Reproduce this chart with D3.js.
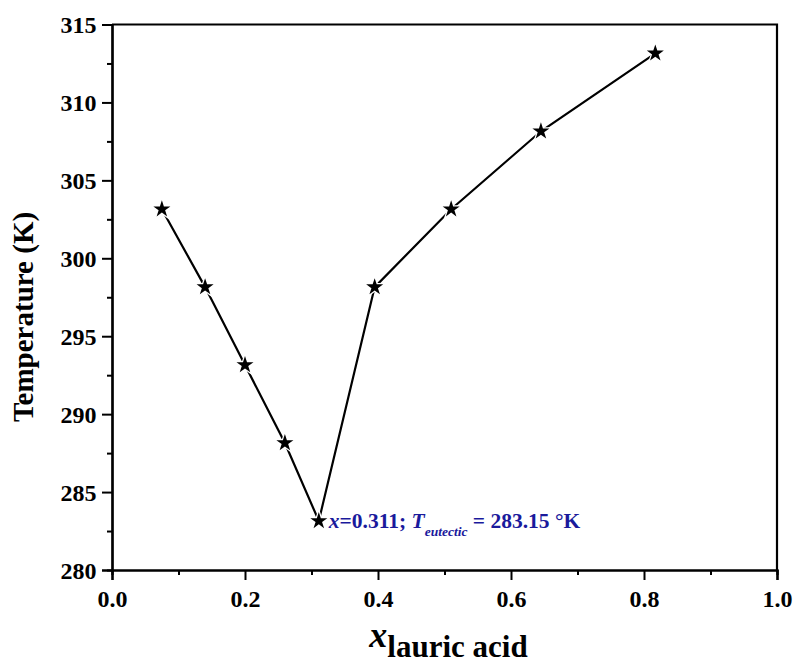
<!DOCTYPE html>
<html>
<head>
<meta charset="utf-8">
<script src="https://cdn.jsdelivr.net/npm/d3@7"></script>
<style>
  body { margin: 0; background: #fff; }
  text { font-family: "Liberation Serif", "Times New Roman", serif; font-weight: bold; }
</style>
</head>
<body>
<div id="chart"></div>
<script>
// mole fraction of lauric acid vs. melting temperature
const xLauric = [0.075, 0.14, 0.2, 0.26, 0.311, 0.395, 0.51, 0.645, 0.817];
const tempK = [303.15, 298.15, 293.15, 288.15, 283.15, 298.15, 303.15, 308.15, 313.15];
const xTicks = [0.0, 0.2, 0.4, 0.6, 0.8, 1.0];
const yTicks = [280, 285, 290, 295, 300, 305, 310, 315];

const width = 798, height = 663;
const margin = { top: 24.5, right: 21, bottom: 93, left: 112 };

const svg = d3.select("#chart").append("svg")
  .attr("width", width)
  .attr("height", height);

const x = d3.scaleLinear().domain([0, 1]).range([margin.left, width - margin.right]);
const y = d3.scaleLinear().domain([280, 315]).range([height - margin.bottom, margin.top]);

// minor ticks
const xMinor = d3.range(0.1, 1, 0.2);
const yMinor = d3.range(282.5, 315, 5);

const gx = svg.append("g").attr("transform", `translate(0,${y(280)})`);
gx.call(d3.axisBottom(x).tickValues(xMinor).tickSize(5).tickFormat(""));
gx.call(g => g.append("g").call(d3.axisBottom(x).tickValues(xTicks).tickSize(10).tickFormat(d3.format(".1f"))));

const gy = svg.append("g").attr("transform", `translate(${x(0)},0)`);
gy.call(d3.axisLeft(y).tickValues(yMinor).tickSize(5).tickFormat(""));
gy.call(g => g.append("g").call(d3.axisLeft(y).tickValues(yTicks).tickSize(10).tickFormat(d3.format("d"))));

svg.selectAll(".domain").attr("stroke", "#000").attr("stroke-width", 2.2);
svg.selectAll(".tick line").attr("stroke", "#000").attr("stroke-width", 2);
svg.selectAll(".tick text").attr("fill", "#000").style("font-size", "24px");
gx.selectAll(".tick text").attr("dy", "1.0em");
gy.selectAll(".tick text").attr("dx", "-0.1em").attr("dy", "0.35em");

// top and right frame
svg.append("path")
  .attr("d", `M${x(0)},${y(315)}H${x(1)}V${y(280)}`)
  .attr("fill", "none")
  .attr("stroke", "#000")
  .attr("stroke-width", 2.2);

// data line
const line = d3.line().x((d, i) => x(xLauric[i])).y(d => y(d));
svg.append("path")
  .datum(tempK)
  .attr("d", line)
  .attr("fill", "none")
  .attr("stroke", "#000")
  .attr("stroke-width", 2.2);

// star markers with white halo
const star = d3.symbol().type(d3.symbolStar).size(90);
svg.selectAll(".halo")
  .data(tempK)
  .enter()
  .append("path")
  .attr("transform", (d, i) => `translate(${x(xLauric[i])},${y(d)})`)
  .attr("d", d3.symbol().type(d3.symbolStar).size(190))
  .attr("fill", "#fff");
svg.selectAll(".star")
  .data(tempK)
  .enter()
  .append("path")
  .attr("transform", (d, i) => `translate(${x(xLauric[i])},${y(d)})`)
  .attr("d", star)
  .attr("fill", "#000");

// eutectic annotation
const note = svg.append("text")
  .attr("x", x(0.311) + 10)
  .attr("y", y(283.15) + 7)
  .attr("fill", "#1a1a9c")
  .style("font-size", "21.5px");
note.append("tspan").style("font-style", "italic").text("x");
note.append("tspan").text("=0.311; ");
note.append("tspan").style("font-style", "italic").text("T");
note.append("tspan").style("font-style", "italic").style("font-size", "13.5px").attr("dy", 8).text("eutectic");
note.append("tspan").attr("dy", -8).text(" = 283.15 °K");

// axis titles
svg.append("text")
  .attr("transform", `translate(33,317) rotate(-90)`)
  .attr("text-anchor", "middle")
  .style("font-size", "29px")
  .text("Temperature (K)");

const xt = svg.append("text")
  .attr("x", (x(0) + x(1)) / 2 + 4)
  .attr("y", 657)
  .attr("text-anchor", "middle")
  .style("font-size", "31px");
xt.append("tspan").style("font-style", "italic").style("font-size", "36px").attr("dy", -10).text("x");
xt.append("tspan").attr("dy", 10).text("lauric acid");
</script>
</body>
</html>
